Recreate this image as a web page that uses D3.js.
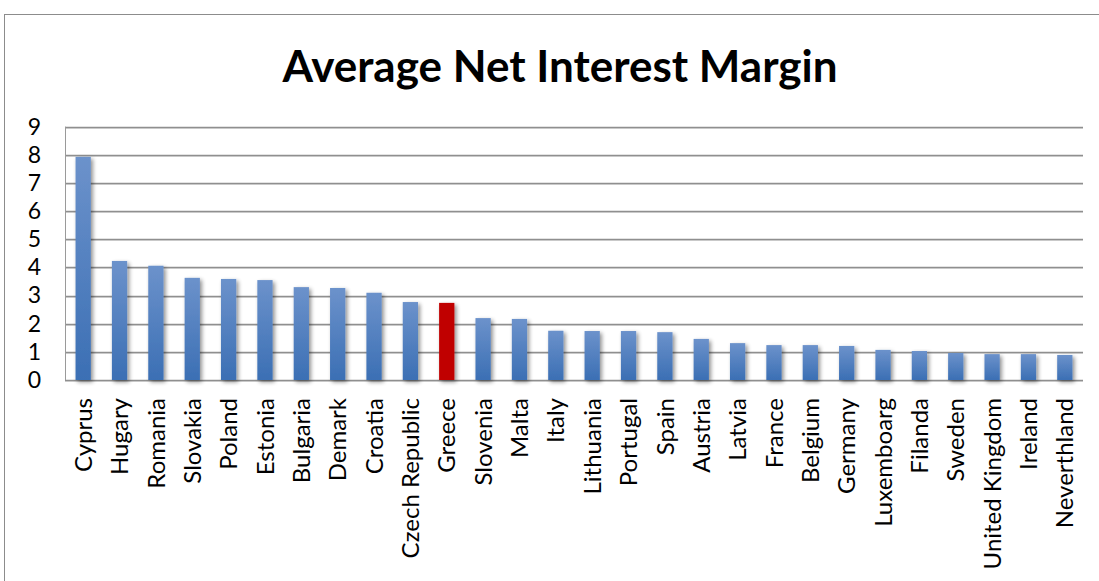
<!DOCTYPE html>
<html>
<head>
<meta charset="utf-8">
<script src="https://cdn.jsdelivr.net/npm/d3@7"></script>
<style>
  html, body { margin: 0; padding: 0; background: #fff; }
  svg { display: block; }
</style>
</head>
<body>
<svg id="chart" width="1099" height="581"></svg>
<script>
// Average net interest margin by country (%)
const countries = ["Cyprus","Hugary","Romania","Slovakia","Poland","Estonia","Bulgaria","Demark","Croatia","Czech Republic","Greece","Slovenia","Malta","Italy","Lithuania","Portugal","Spain","Austria","Latvia","France","Belgium","Germany","Luxemboarg","Filanda","Sweden","United Kingdom","Ireland","Neverthland"];
const margins = [7.93,4.23,4.06,3.63,3.59,3.55,3.30,3.27,3.10,2.77,2.74,2.20,2.17,1.75,1.74,1.74,1.70,1.46,1.31,1.24,1.24,1.21,1.07,1.03,0.96,0.92,0.92,0.89];
const highlighted = ["Greece"];
const yTicks = [0,1,2,3,4,5,6,7,8,9];
const chartTitle = "Average Net Interest Margin";

const svg = d3.select("#chart");
const font = "Lato, 'Open Sans', sans-serif";

const plot = { left: 65, right: 1083, top: 126.7, bottom: 380 };

const x = d3.scaleBand().domain(countries).range([plot.left, plot.right]).paddingInner(0.58).paddingOuter(0.29);
const y = d3.scaleLinear().domain([0, 9]).range([plot.bottom, plot.top]);

const defs = svg.append("defs");
const grad = defs.append("linearGradient").attr("id", "barBlue").attr("x1", 0).attr("y1", 0).attr("x2", 0).attr("y2", 1);
grad.append("stop").attr("offset", "0%").attr("stop-color", "#6c92cb");
grad.append("stop").attr("offset", "100%").attr("stop-color", "#3b6fb4");

const shadow = defs.append("filter").attr("id", "barShadow").attr("x", "-50%").attr("y", "-10%").attr("width", "200%").attr("height", "130%");
shadow.append("feGaussianBlur").attr("in", "SourceAlpha").attr("stdDeviation", 2.2).attr("result", "b");
shadow.append("feOffset").attr("in", "b").attr("dx", 1.5).attr("dy", 1.5).attr("result", "o");
shadow.append("feComponentTransfer").attr("in", "o").attr("result", "s")
  .append("feFuncA").attr("type", "linear").attr("slope", 0.45);
const merge = shadow.append("feMerge");
merge.append("feMergeNode").attr("in", "s");
merge.append("feMergeNode").attr("in", "SourceGraphic");

// Outer chart frame
svg.append("rect")
  .attr("x", 4.5).attr("y", 14.5).attr("width", 1200).attr("height", 700)
  .attr("fill", "none").attr("stroke", "#8c8c8c").attr("stroke-width", 1);

// Title
svg.append("text")
  .attr("x", 560).attr("y", 82)
  .attr("text-anchor", "middle")
  .attr("font-family", font).attr("font-weight", "bold").attr("font-size", 44)
  .attr("fill", "#000")
  .text(chartTitle);

// Horizontal gridlines
const grid = svg.append("g");
grid.selectAll("line.sh").data(yTicks).join("line")
  .attr("x1", plot.left).attr("x2", plot.right)
  .attr("y1", d => Math.round(y(d)) + 1.5).attr("y2", d => Math.round(y(d)) + 1.5)
  .attr("stroke", "#dcdcdc").attr("stroke-width", 1);
grid.selectAll("line.g").data(yTicks).join("line")
  .attr("x1", plot.left).attr("x2", plot.right)
  .attr("y1", d => Math.round(y(d)) + 0.5).attr("y2", d => Math.round(y(d)) + 0.5)
  .attr("stroke", "#8f8f8f").attr("stroke-width", 1.3);

// Left plot edge
svg.append("line")
  .attr("x1", plot.left + 0.5).attr("x2", plot.left + 0.5)
  .attr("y1", y(9)).attr("y2", y(0))
  .attr("stroke", "#9a9a9a").attr("stroke-width", 1);

// Bars
svg.append("g").selectAll("rect").data(countries).join("rect")
  .attr("x", d => x(d))
  .attr("width", x.bandwidth())
  .attr("y", (d, i) => y(margins[i]))
  .attr("height", (d, i) => y(0) - y(margins[i]))
  .attr("fill", d => highlighted.includes(d) ? "#c00000" : "url(#barBlue)")
  .attr("filter", "url(#barShadow)");

// Y axis labels
const yAxis = d3.axisLeft(y).tickValues(yTicks).tickSize(0).tickPadding(0).tickFormat(d3.format("d"));
const ya = svg.append("g").attr("transform", "translate(41,0)").call(yAxis);
ya.select(".domain").remove();
ya.selectAll("text").attr("font-family", font).attr("font-size", 23).attr("fill", "#000");

// X axis labels, rotated
const xAxis = d3.axisBottom(x).tickSize(0).tickPadding(0);
const xa = svg.append("g").attr("transform", `translate(0,${plot.bottom})`).call(xAxis);
xa.select(".domain").remove();
xa.selectAll("text")
  .attr("font-family", font).attr("font-size", 24).attr("fill", "#000")
  .attr("text-anchor", "end")
  .attr("transform", "rotate(-90)")
  .attr("x", -18).attr("y", 0).attr("dy", "0.36em");
</script>
</body>
</html>
